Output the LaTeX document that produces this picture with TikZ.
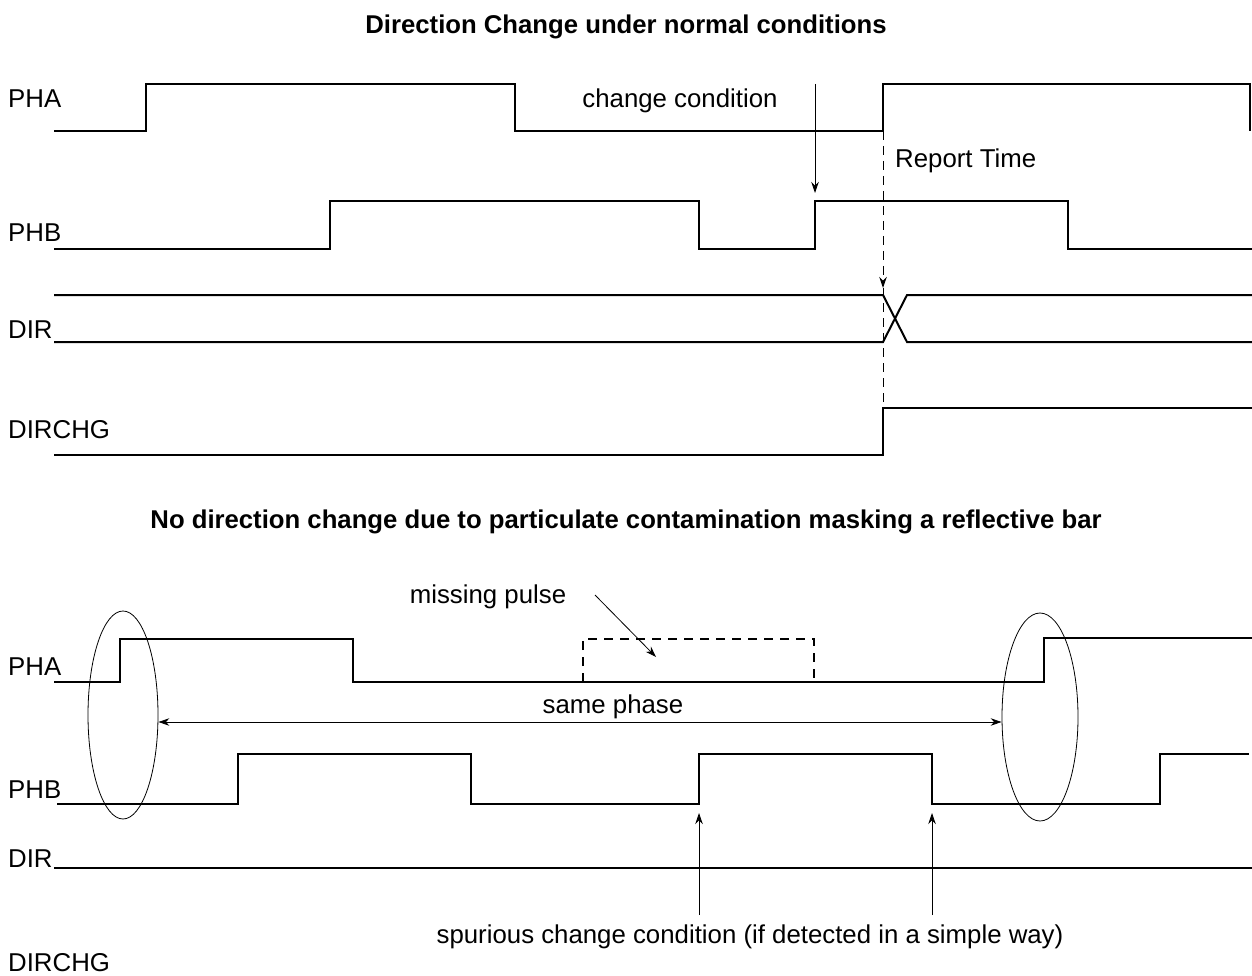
\documentclass[tikz,border=0pt]{standalone}
\usepackage{fontspec}
\setmainfont{Liberation Sans}
\usetikzlibrary{arrows.meta,positioning,shapes.geometric}

\begin{document}
\begin{tikzpicture}[
  x=1pt, y=-1pt,
  every node/.style={font=\fontsize{25.8}{30}\selectfont, inner sep=0pt},
  signame/.style={anchor=base west},
  note/.style={anchor=base},
  headline/.style={anchor=base, font=\fontsize{25.7}{30}\selectfont\bfseries},
  wave/.style={line width=2pt, line join=miter},
  pointer/.style={-{Stealth[length=11pt,width=7.5pt]}, line width=0.8pt},
  marker/.style={line width=0.8pt},
]
\useasboundingbox (0,0) rectangle (1252,976);

% ---------- direction change under normal conditions ----------
\node[headline] (headA) at (626,34) {Direction Change under normal conditions};

\node[signame] (phaA)    at (8,108) {PHA};
\node[signame] (phbA)    at (8,242) {PHB};
\node[signame] (dirA)    at (8,338) {DIR};
\node[signame] (dirchgA) at (8,438) {DIRCHG};

\draw[wave] (54,131) -| (146,84) -| (515,131) -| (883,84) -| (1250,131);
\draw[wave] (54,249) -| (330,201) -| (699,249) -| (815,201) -| (1068,249) -- (1252,249);
\draw[wave] (54,295) -- (883,295) -- (907,342) -- (1252,342);
\draw[wave] (54,342) -- (883,342) -- (907,295) -- (1252,295);
\draw[wave] (54,455) -| (883,408) -- (1252,408);

\node[note] (chgcond) at (680,108) {change condition};
\coordinate (chgtop) at (815,84);
\coordinate (chgtip) at (815,193);
\draw[pointer] (chgtop) -- (chgtip);

\node[anchor=base west] (report) at (895,168) {Report Time};
\coordinate (reptop) at (883,131);
\coordinate (reptip) at (883,288);
\coordinate (repbot) at (883,408);
\draw[pointer, line width=1pt, dash pattern=on 9pt off 6pt] (reptop) -- (reptip);
\draw[marker, line width=1pt, dash pattern=on 9pt off 6pt] (reptip) -- (repbot);

% ---------- no direction change (masked bar) ----------
\node[headline] (headB) at (626,528) {No direction change due to particulate contamination masking a reflective bar};

\node[signame] (phaB)    at (8,675) {PHA};
\node[signame] (phbB)    at (8,798) {PHB};
\node[signame] (dirB)    at (8,867) {DIR};
\node[signame] (dirchgB) at (8,971) {DIRCHG};

\draw[wave] (54,682) -| (120,639) -| (353,682) -| (1044,638) -- (1252,638);
\draw[wave, dash pattern=on 9pt off 7pt] (583,682) |- (814,639) -- (814,682);
\draw[wave] (57,804) -| (238,754) -| (471,804) -| (699,754) -| (932,804) -| (1160,754) -- (1249,754);
\draw[wave] (54,868) -- (1252,868);

\node[marker, draw, ellipse, minimum width=70pt, minimum height=208pt] (ovalL) at (123,715) {};
\node[marker, draw, ellipse, minimum width=76pt, minimum height=208pt] (ovalR) at (1040,717) {};
\draw[pointer, {Stealth[length=11pt,width=7.5pt]}-{Stealth[length=11pt,width=7.5pt]}]
  ([yshift=-7pt]ovalL.east) -- ([yshift=-5pt]ovalR.west);
\node[note] (samephase) at (613,713) {same phase};

\node[note] (missing) at (488,603) {missing pulse};
\coordinate (misstail) at (595,595);
\coordinate (misstip) at (656,657);
\draw[pointer] (misstail) -- (misstip);

\node[note] (spurious) at (750,943) {spurious change condition (if detected in a simple way)};
\coordinate (spurA) at (699,915);
\coordinate (spurAtip) at (699,813);
\coordinate (spurB) at (932,915);
\coordinate (spurBtip) at (932,813);
\draw[pointer] (spurA) -- (spurAtip);
\draw[pointer] (spurB) -- (spurBtip);
\end{tikzpicture}
\end{document}
